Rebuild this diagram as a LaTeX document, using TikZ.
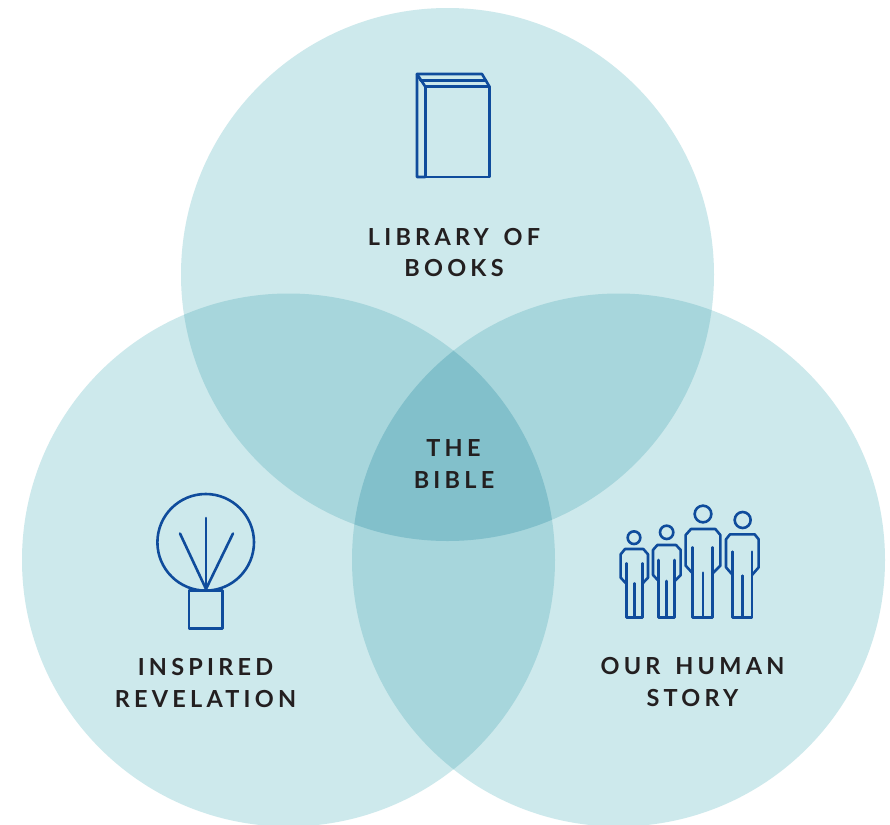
\documentclass[tikz,border=0pt]{standalone}
\usepackage{fontspec}
\setmainfont[LetterSpace=18,WordSpace=1.5,Ligatures=NoCommon]{Lato}
\definecolor{one}{HTML}{CDE9EC}
\definecolor{two}{HTML}{A7D6DC}
\definecolor{three}{HTML}{82C0CB}
\definecolor{ink}{HTML}{0F4C9C}
\definecolor{word}{HTML}{231F20}
\tikzset{
  icon/.style={draw=ink,line width=1.95pt,line join=round,line cap=round},
  lbl/.style={text=word,anchor=base,inner sep=0pt,font=\bfseries\fontsize{17.6}{20}\selectfont},
  zoomed/.style={x=.25pt,y=-.25pt}
}
\newcommand{\circA}{(447.5,274.5) circle [radius=266.5]}
\newcommand{\circB}{(288.5,560) circle [radius=266.5]}
\newcommand{\circC}{(618.5,560) circle [radius=266.5]}
\begin{document}
\begin{tikzpicture}[x=.75pt,y=-.75pt]
\useasboundingbox (0,0) rectangle (890,825);
\fill[white] (0,0) rectangle (890,825);
\clip (0,0) rectangle (890,825);
\fill[one] \circA;
\fill[one] \circB;
\fill[one] \circC;
\begin{scope}\clip \circA; \fill[two] \circB; \fill[two] \circC; \end{scope}
\begin{scope}\clip \circB; \fill[two] \circC; \end{scope}
\begin{scope}\clip \circA; \clip \circB; \fill[three] \circC; \end{scope}
% book
\draw[icon] (425.3,86.7) rectangle (489.5,177);
\draw[icon] (425.3,86.7) -- (417,74) -- (417,177) -- (425.3,177);
\draw[icon] (417,74) -- (482,74) -- (489.5,86.7);
\draw[icon] (420.5,80.7) -- (486,80.7);
% bulb
\draw[icon] (205.7,542.3) circle [radius=48.3];
\draw[icon] (189,590.3) rectangle (222.7,628.3);
\draw[icon] (206,518) -- (206,589);
\draw[icon] (180,533.5) -- (206,589) -- (233,533.5);
% people
\begin{scope}[shift={(610,495)},zoomed]
\draw[icon] (72,128) circle [radius=19];
\draw[icon] (50,205) -- (50,368) -- (98,368) -- (98,205);
\draw[icon] (73,265) -- (73,368);
\draw[icon] (48,265) -- (32,248) -- (32,178) -- (45,162) -- (100,162) -- (114,178) -- (114,248) -- (98,265);
\draw[icon] (170,112) circle [radius=20];
\draw[icon] (146,195) -- (146,368) -- (194,368) -- (194,195);
\draw[icon] (170,258) -- (170,368);
\draw[icon] (146,258) -- (129,240) -- (129,165) -- (142,150) -- (198,150) -- (212,165) -- (212,240) -- (194,258);
\draw[icon] (279,57) circle [radius=25];
\draw[icon] (248,157) -- (248,368) -- (308,368) -- (308,157);
\draw[icon] (279,233) -- (279,368);
\draw[icon] (248,235) -- (227,212) -- (227,120) -- (243,102) -- (316,102) -- (331,120) -- (331,212) -- (308,235);
\draw[icon] (398,75) circle [radius=24];
\draw[icon] (368,170) -- (368,368) -- (426,368) -- (426,170);
\draw[icon] (397,242) -- (397,368);
\draw[icon] (368,240) -- (348,217) -- (348,133) -- (360,118) -- (434,118) -- (446,133) -- (446,217) -- (426,240);
\end{scope}
% labels
\node[lbl] (lib1) at (454,245) {LIBRARY OF};
\node[lbl] (lib2) at (454,276.5) {BOOKS};
\node[lbl] (bib1) at (453.5,456) {THE};
\node[lbl] (bib2) at (454,488) {BIBLE};
\node[lbl] (ins1) at (205.5,675) {INSPIRED};
\node[lbl] (ins2) at (205.5,707) {REVELATION};
\node[lbl] (our1) at (692.5,674.5) {OUR HUMAN};
\node[lbl] (our2) at (692.5,706.5) {STORY};
\end{tikzpicture}
\end{document}
